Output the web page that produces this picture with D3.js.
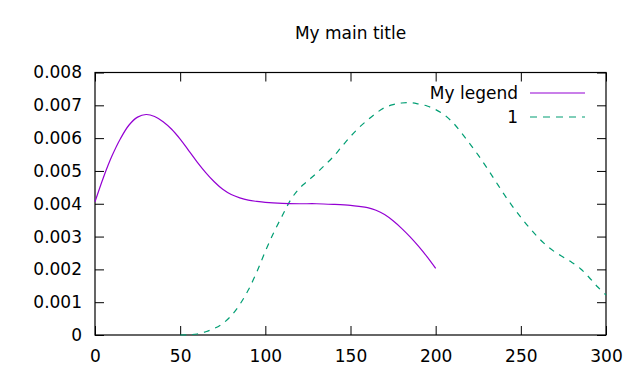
<!DOCTYPE html>
<html>
<head>
<meta charset="utf-8">
<script src="https://cdn.jsdelivr.net/npm/d3@7"></script>
<style>
  body { margin: 0; background: #fff; }
  text { font-family: "DejaVu Sans", Verdana, sans-serif; fill: #000; }
</style>
</head>
<body>
<div id="chart"></div>
<script>
// values
const purpleX = [0, 5, 10, 15, 20, 25, 30, 35, 40, 45, 50, 55, 60, 65, 70, 75, 80, 85, 90, 95, 100, 110, 120, 130, 140, 150, 155, 160, 165, 170, 175, 180, 185, 190, 195, 200];
const purpleY = [0.00406, 0.00481, 0.00546, 0.00599, 0.00640, 0.00664, 0.00672, 0.00666, 0.00650, 0.00627, 0.00597, 0.00562, 0.00527, 0.00495, 0.00467, 0.00444, 0.00428, 0.00418, 0.00411, 0.00407, 0.00404, 0.00401, 0.00400, 0.00400, 0.00398, 0.00395, 0.00392, 0.00388, 0.00380, 0.00367, 0.00348, 0.00325, 0.00299, 0.00270, 0.00238, 0.00203];

const greenX = [50, 55, 60, 65, 70, 75, 80, 85, 90, 95, 100, 105, 110, 115, 120, 125, 130, 135, 140, 145, 150, 155, 160, 165, 170, 175, 180, 185, 190, 195, 200, 205, 210, 215, 220, 225, 230, 235, 240, 245, 250, 255, 260, 265, 270, 275, 280, 285, 290, 295, 300];
const greenY = [0, 0.00001, 0.00003, 0.0001, 0.0002, 0.00035, 0.00059, 0.00093, 0.00137, 0.00192, 0.00255, 0.00313, 0.00364, 0.00413, 0.00447, 0.0047, 0.00493, 0.00518, 0.00544, 0.00575, 0.00605, 0.00632, 0.00655, 0.00676, 0.00693, 0.00702, 0.00707, 0.00708, 0.00704, 0.00698, 0.00687, 0.00671, 0.00648, 0.00617, 0.00583, 0.00548, 0.0051, 0.0047, 0.0043, 0.00393, 0.00359, 0.00327, 0.00298, 0.00273, 0.00253, 0.00237, 0.00221, 0.00202, 0.00176, 0.00147, 0.00122];

const xTicks = [0, 50, 100, 150, 200, 250, 300];
const yTicks = [0, 0.001, 0.002, 0.003, 0.004, 0.005, 0.006, 0.007, 0.008];
const seriesNames = ["My legend", "1"];

const svgWidth = 640;
const svgHeight = 384;
const margin = { top: 72.5, right: 34, bottom: 49, left: 95 };
const width = svgWidth - margin.left - margin.right;
const height = svgHeight - margin.top - margin.bottom;
const fontSize = 17;
const tickLen = 9;

const svg = d3.select("#chart").append("svg")
    .attr("width", svgWidth)
    .attr("height", svgHeight);

const g = svg.append("g")
    .attr("transform", "translate(" + margin.left + "," + margin.top + ")");

const xScale = d3.scaleLinear().domain([0, 300]).range([0, width]);
const yScale = d3.scaleLinear().domain([0, 0.008]).range([height, 0]);

// bottom axis with inward ticks
const xAxis = d3.axisBottom(xScale).tickValues(xTicks).tickSize(-tickLen).tickPadding(tickLen + 6).tickFormat(d3.format("d"));
const xg = g.append("g").attr("transform", "translate(0," + height + ")").call(xAxis);

const yAxis = d3.axisLeft(yScale).tickValues(yTicks).tickSize(-tickLen).tickPadding(tickLen + 4)
    .tickFormat(d => d === 0 ? "0" : d3.format(".3f")(d));
const yg = g.append("g").call(yAxis);

// mirrored ticks on top and right
const xTop = g.append("g").call(d3.axisTop(xScale).tickValues(xTicks).tickSize(-tickLen).tickFormat(""));
const yRight = g.append("g").attr("transform", "translate(" + width + ",0)")
    .call(d3.axisRight(yScale).tickValues(yTicks).tickSize(-tickLen).tickFormat(""));

[xg, yg, xTop, yRight].forEach(a => {
    a.select(".domain").remove();
    a.selectAll("line").attr("stroke", "#000").attr("stroke-width", 1);
    a.selectAll("text").style("font-size", fontSize + "px").style("font-family", "DejaVu Sans, sans-serif").attr("fill", "#000");
});

// border box
g.append("rect")
    .attr("x", 0).attr("y", 0)
    .attr("width", width).attr("height", height)
    .style("fill", "none")
    .style("stroke", "#000")
    .style("stroke-width", 1.2);

const line = d3.line()
    .x(d => xScale(d[0]))
    .y(d => yScale(d[1]))
    .curve(d3.curveCatmullRom);

const purple = purpleX.map((x, i) => [x, purpleY[i]]);
const green = greenX.map((x, i) => [x, greenY[i]]);

g.append("path")
    .datum(green)
    .attr("d", line)
    .attr("fill", "none")
    .attr("stroke", "#009e73")
    .attr("stroke-width", 1.2)
    .attr("stroke-dasharray", "6,6");

g.append("path")
    .datum(purple)
    .attr("d", line)
    .attr("fill", "none")
    .attr("stroke", "#9400d3")
    .attr("stroke-width", 1.2);

// legend
const legend = svg.append("g");
const legendColors = ["#9400d3", "#009e73"];
const legendDash = [null, "7,6"];
seriesNames.forEach((name, i) => {
    const y = 93 + i * 24;
    legend.append("text")
        .attr("x", 518)
        .attr("y", y)
        .attr("dy", "0.36em")
        .attr("text-anchor", "end")
        .style("font-size", fontSize + "px")
        .text(name);
    legend.append("line")
        .attr("x1", 530).attr("x2", 585)
        .attr("y1", y).attr("y2", y)
        .attr("stroke", legendColors[i])
        .attr("stroke-width", 1.2)
        .attr("stroke-dasharray", legendDash[i]);
});

// title
svg.append("text")
    .attr("x", margin.left + width / 2)
    .attr("y", 33)
    .attr("dy", "0.36em")
    .attr("text-anchor", "middle")
    .style("font-size", fontSize + "px")
    .text("My main title");
</script>
</body>
</html>
